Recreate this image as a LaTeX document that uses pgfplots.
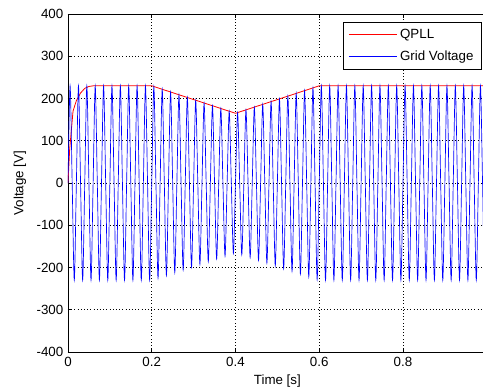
\documentclass[border=0pt]{standalone}
\usepackage{fontspec}
\setmainfont{Liberation Sans}
\usepackage{pgfplots}
\pgfplotsset{compat=1.18}
\begin{document}
\fontsize{10}{12}\selectfont
\begin{tikzpicture}
\useasboundingbox (-51pt,-27.75pt) rectangle (311.25pt,264pt);
\clip (-51pt,-27.75pt) rectangle (311.25pt,264pt);
\begin{axis}[
  at={(0,0)}, anchor=south west,
  scale only axis,
  width=314.06pt, height=253.5pt,
  xmin=0, xmax=1, ymin=-400, ymax=400,
  xtick={0,0.2,0.4,0.6,0.8},
  xticklabels={0,0.2,0.4,0.6,0.8},
  ytick={-400,-300,-200,-100,0,100,200,300,400},
  yticklabels={-400,-300,-200,-100,0,100,200,300,400},
  grid=major,
  major grid style={black, dotted, line width=0.4pt},
  tick align=inside,
  major tick length=3pt,
  tick style={black, line width=0.4pt},
  axis line style={black, line width=0.5pt},
  tick label style={font=\fontsize{10}{12}\selectfont},
  xlabel={Time [s]}, ylabel={Voltage [V]},
  label style={font=\fontsize{10}{12}\selectfont},
  xlabel style={at={(axis description cs:0.5,-0.0858)}, anchor=center},
  ylabel style={at={(axis description cs:-0.1146,0.5)}, anchor=center},
  legend style={at={(axis description cs:0.988,0.976)}, anchor=north east,
    draw=black, fill=white, line width=0.4pt,
    font=\fontsize{10}{12}\selectfont, cells={anchor=west},
    inner xsep=4pt, inner ysep=3.4pt, row sep=3.4pt},
  legend image code/.code={\draw[line width=0.9pt, #1] (0pt,0pt) -- (36pt,0pt);},
]
\addlegendimage{draw=red, yshift=0.45pt}
\addlegendentry{QPLL}
\addlegendimage{draw=blue}
\addlegendentry{Grid Voltage}
\addplot[red, line width=0.6pt, forget plot] coordinates {
(0,0)(0.004,80)(0.008,125)(0.012,170)(0.02,195)(0.03,213)(0.04,224)(0.05,228.5)(0.06,230)(0.2,230)(0.4,165)(0.6,230)(1,230)};
\addplot[blue, line width=0.5pt, smooth, forget plot] coordinates {
(0,0)(0.005,230)(0.01,0)(0.015,-230)(0.02,0)(0.025,230)(0.03,0)(0.035,-230)(0.04,0)(0.045,230)(0.05,0)(0.055,-230)(0.06,0)(0.065,230)(0.07,0)(0.075,-230)(0.08,0)(0.085,230)(0.09,0)(0.095,-230)(0.1,0)(0.105,230)(0.11,0)(0.115,-230)(0.12,0)(0.125,230)(0.13,0)(0.135,-230)(0.14,0)(0.145,230)(0.15,0)(0.155,-230)(0.16,0)(0.165,230)(0.17,0)(0.175,-230)(0.18,0)(0.185,230)(0.19,0)(0.195,-230)(0.2,0)
(0.205,228.4)(0.21,0)(0.215,-225.1)(0.22,0)(0.225,221.9)(0.23,0)(0.235,-218.6)(0.24,0)(0.245,215.4)(0.25,0)(0.255,-212.1)(0.26,0)(0.265,208.9)(0.27,0)(0.275,-205.6)(0.28,0)(0.285,202.4)(0.29,0)(0.295,-199.1)(0.3,0)(0.305,195.9)(0.31,0)(0.315,-192.6)(0.32,0)(0.325,189.4)(0.33,0)(0.335,-186.1)(0.34,0)(0.345,182.9)(0.35,0)(0.355,-179.6)(0.36,0)(0.365,176.4)(0.37,0)(0.375,-173.1)(0.38,0)(0.385,169.9)(0.39,0)(0.395,-166.6)(0.4,0)
(0.405,166.6)(0.41,0)(0.415,-169.9)(0.42,0)(0.425,173.1)(0.43,0)(0.435,-176.4)(0.44,0)(0.445,179.6)(0.45,0)(0.455,-182.9)(0.46,0)(0.465,186.1)(0.47,0)(0.475,-189.4)(0.48,0)(0.485,192.6)(0.49,0)(0.495,-195.9)(0.5,0)(0.505,199.1)(0.51,0)(0.515,-202.4)(0.52,0)(0.525,205.6)(0.53,0)(0.535,-208.9)(0.54,0)(0.545,212.1)(0.55,0)(0.555,-215.4)(0.56,0)(0.565,218.6)(0.57,0)(0.575,-221.9)(0.58,0)(0.585,225.1)(0.59,0)(0.595,-228.4)(0.6,0)
(0.605,230)(0.61,0)(0.615,-230)(0.62,0)(0.625,230)(0.63,0)(0.635,-230)(0.64,0)(0.645,230)(0.65,0)(0.655,-230)(0.66,0)(0.665,230)(0.67,0)(0.675,-230)(0.68,0)(0.685,230)(0.69,0)(0.695,-230)(0.7,0)(0.705,230)(0.71,0)(0.715,-230)(0.72,0)(0.725,230)(0.73,0)(0.735,-230)(0.74,0)(0.745,230)(0.75,0)(0.755,-230)(0.76,0)(0.765,230)(0.77,0)(0.775,-230)(0.78,0)(0.785,230)(0.79,0)(0.795,-230)(0.8,0)(0.805,230)(0.81,0)(0.815,-230)(0.82,0)(0.825,230)(0.83,0)(0.835,-230)(0.84,0)(0.845,230)(0.85,0)(0.855,-230)(0.86,0)(0.865,230)(0.87,0)(0.875,-230)(0.88,0)(0.885,230)(0.89,0)(0.895,-230)(0.9,0)(0.905,230)(0.91,0)(0.915,-230)(0.92,0)(0.925,230)(0.93,0)(0.935,-230)(0.94,0)(0.945,230)(0.95,0)(0.955,-230)(0.96,0)(0.965,230)(0.97,0)(0.975,-230)(0.98,0)(0.985,230)(0.99,0)(0.995,-230)(1,0)};
\end{axis}
\end{tikzpicture}
\end{document}
